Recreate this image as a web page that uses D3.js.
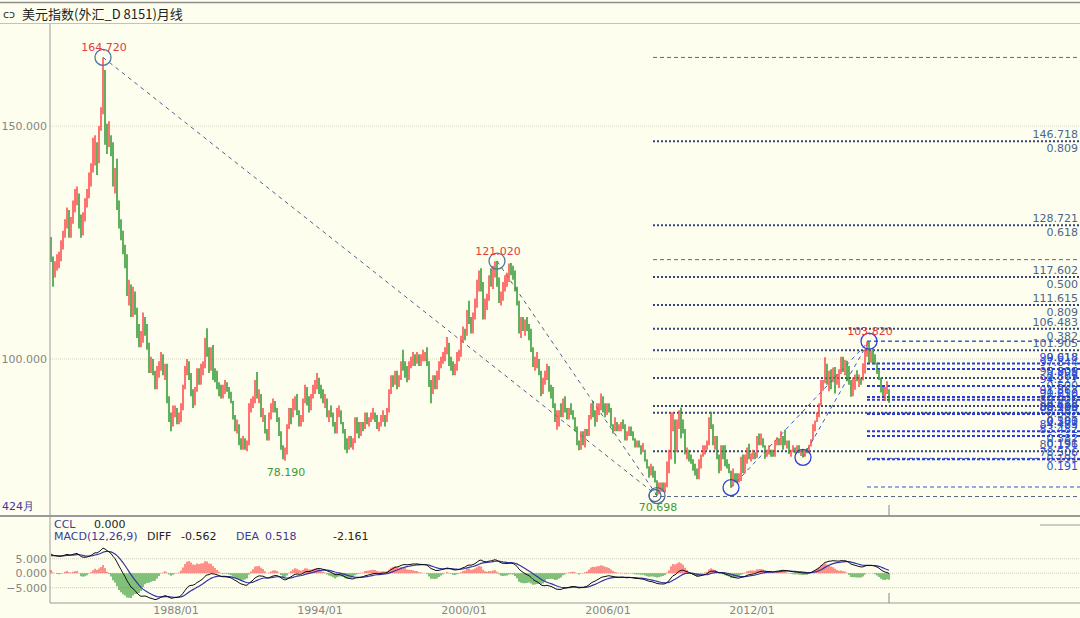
<!DOCTYPE html>
<html>
<head>
<meta charset="utf-8">
<title>美元指数 月线</title>
<script src="https://d3js.org/d3.v7.min.js"></script>
<style>
  body { margin: 0; background: #fefeee; }
  svg { display: block; }
  .lbl { font-family: "DejaVu Sans", Verdana, sans-serif; font-size: 11px; }
</style>
</head>
<body>
<svg id="chart" width="1080" height="618"></svg>
<script>
// monthly bars, first bar = 1982/12, open of each bar = previous close
const firstOpen = 125.6;

// closes 1980/01 - 1982/11, only used to warm up the MACD
const warmUp = [
  86.5, 88.0, 93.0, 90.5, 87.5, 86.5, 85.0, 86.0, 86.0, 88.0, 91.0, 94.0,
  97.0, 100.5, 99.0, 103.0, 108.0, 110.5, 113.5, 112.0, 106.5, 106.0, 103.0, 105.0,
  108.0, 111.0, 113.0, 112.0, 110.5, 116.0, 117.5, 117.0, 120.0, 121.5, 123.5
];

const highs = [
  126.2,
  122.0,121.0,122.5,123.0,125.5,127.5,130.0,132.5,132.0,130.5,134.0,136.5,
  137.0,135.5,131.0,131.5,134.5,136.5,140.0,142.0,147.5,148.0,146.5,150.0,
  154.0,164.72,162.0,150.5,151.0,148.0,146.5,141.0,143.0,134.0,130.0,127.5,
  124.5,122.5,117.0,116.0,115.5,114.5,111.0,107.5,106.0,110.0,109.0,107.5,
  103.5,100.5,100.0,97.5,98.5,99.5,101.5,101.0,99.0,99.0,92.0,88.5,
  90.0,90.0,89.5,88.5,90.5,94.5,98.5,100.0,99.5,97.0,93.5,94.0,
  98.0,98.0,99.0,99.5,104.5,106.6,102.5,102.5,103.0,98.0,97.5,95.0,
  94.5,94.5,95.5,95.0,94.0,93.0,91.0,88.0,87.0,86.0,83.0,83.5,
  83.0,82.5,90.5,91.5,92.0,95.5,97.2,93.5,92.5,89.5,88.0,85.0,
  88.5,90.5,91.5,91.0,89.5,87.5,84.5,81.5,81.0,86.0,89.5,89.5,
  91.5,92.0,92.5,89.0,88.0,91.5,94.5,94.0,92.0,92.5,94.5,95.5,
  97.0,96.0,94.5,93.5,92.5,91.5,89.0,90.0,88.5,86.5,89.5,90.0,
  89.0,86.5,85.0,83.0,83.5,83.5,83.0,87.5,87.5,86.5,86.5,86.5,
  88.5,88.5,87.5,88.5,89.5,88.5,88.0,86.5,88.0,89.0,88.0,89.5,
  93.5,96.5,96.5,97.5,97.5,96.5,99.5,102.0,99.5,98.5,99.5,100.5,
  101.5,101.0,101.5,101.0,101.0,102.0,101.5,102.5,99.5,95.5,96.5,96.5,
  97.5,99.5,100.5,101.5,102.5,104.7,103.5,100.5,99.5,99.0,101.5,102.0,
  105.0,107.0,106.5,110.5,112.5,109.0,110.0,113.0,117.0,119.0,119.5,116.5,
  113.0,114.0,118.0,119.5,120.0,121.0,121.02,117.5,114.5,116.5,118.0,118.5,
  120.5,120.6,120.0,119.0,115.5,112.5,109.0,109.0,108.5,109.0,107.5,106.5,
  102.5,100.5,101.5,100.0,97.5,96.0,97.5,99.0,98.5,94.5,94.0,90.5,
  89.0,89.0,90.5,91.5,92.0,89.5,89.5,90.5,89.0,87.5,85.5,82.5,
  84.5,84.5,85.0,85.0,88.0,90.5,91.0,89.0,90.5,90.5,92.6,92.0,
  90.5,90.5,90.5,89.5,86.0,87.5,86.5,86.0,86.5,87.0,86.0,84.5,
  85.5,85.5,84.5,83.0,82.5,82.5,81.5,82.0,80.5,78.5,77.0,77.5,
  77.0,76.0,74.0,73.5,73.5,73.5,73.5,78.0,80.5,88.5,88.5,87.0,
  87.0,89.0,89.6,87.0,85.0,81.0,80.5,79.5,78.5,77.5,76.5,78.5,
  79.5,81.5,81.5,82.5,87.5,88.7,86.0,83.5,83.5,79.5,81.5,81.5,
  81.5,78.5,77.5,76.0,76.5,75.5,75.5,75.5,79.0,79.5,79.5,81.0,
  81.8,79.8,80.5,80.0,83.5,84.0,84.0,83.0,81.5,80.5,81.5,80.5,
  80.5,82.5,83.2,83.0,84.5,83.5,84.8,82.5,82.5,80.5,81.5,81.0,
  81.5,81.5,80.5,80.5,80.5,80.9,81.6,82.8,86.0,86.8,88.5,90.5,
  95.5,95.5,100.39,99.0,97.5,97.8,98.2,98.3,96.8,97.8,100.5,100.5,
  99.8,99.6,98.5,95.5,96.0,96.7,97.6,96.7,96.0,99.1,102.0,103.7,
  103.82,101.8,102.3,101.0,99.2,97.8,96.0,94.0,94.0,95.2,93.5
];

const lows = [
  120.8,
  115.5,117.5,119.0,119.5,121.0,123.5,126.0,128.0,126.0,126.0,129.0,131.5,
  133.0,128.0,126.0,126.5,129.5,132.5,134.5,137.0,140.0,141.5,139.5,142.0,
  149.0,152.5,146.0,144.0,145.5,143.5,137.0,135.5,132.0,128.0,125.5,122.5,
  119.5,113.5,111.5,109.0,109.0,109.5,104.5,102.5,102.5,103.5,105.0,102.0,
  97.0,97.0,96.5,93.5,93.5,96.0,97.5,96.5,95.5,90.5,86.5,84.5,
  85.5,87.5,86.0,86.0,86.5,89.0,93.5,96.5,95.5,92.0,89.5,90.0,
  93.0,94.5,94.5,96.5,98.0,100.5,97.0,97.5,95.5,95.0,93.5,92.0,
  91.5,91.5,92.5,93.0,91.5,90.5,87.0,84.5,84.0,81.5,80.5,80.5,
  80.5,80.2,81.5,88.5,89.5,90.5,91.5,90.5,87.5,86.5,84.0,82.5,
  82.5,87.0,88.5,88.5,86.5,83.5,80.5,78.5,78.19,79.5,85.0,86.0,
  87.5,89.0,88.0,85.5,85.5,86.5,90.5,90.0,88.5,89.0,91.5,92.5,
  93.5,92.5,91.5,90.5,89.5,87.5,86.5,87.5,85.5,84.0,84.0,87.5,
  86.0,84.0,80.5,79.8,80.5,81.0,80.5,82.0,84.0,83.0,83.5,84.5,
  85.0,86.0,85.5,86.5,87.0,86.5,85.0,84.5,85.5,86.5,85.5,86.5,
  88.5,92.5,94.0,94.5,93.5,94.0,95.5,97.5,96.0,95.0,95.5,98.0,
  98.5,98.5,99.0,98.5,98.5,99.5,99.5,98.5,94.0,90.5,92.5,93.5,
  93.5,95.5,98.0,99.0,99.5,101.0,98.5,97.5,96.5,96.5,97.5,99.5,
  100.5,103.5,104.0,105.0,107.5,105.5,105.5,108.5,111.0,114.5,114.5,108.5,
  108.5,110.5,112.5,115.5,115.0,117.5,115.5,112.0,111.5,112.5,114.5,115.5,
  116.5,118.0,117.0,114.5,111.5,105.5,104.5,106.0,105.0,106.0,104.0,101.5,
  98.3,97.5,98.0,96.5,92.0,92.5,94.5,95.5,93.0,91.5,89.5,86.5,
  84.8,85.5,87.5,87.5,88.5,87.0,87.0,88.0,87.0,84.5,81.5,80.4,
  80.5,81.5,81.0,83.5,83.5,87.0,87.5,85.5,86.5,88.0,89.0,88.5,
  87.5,88.0,88.5,85.5,84.0,84.5,84.5,84.5,84.5,85.0,82.5,82.5,
  83.5,83.5,82.5,81.0,81.0,81.0,79.5,80.0,78.0,76.5,74.5,75.0,
  74.5,73.5,70.698,71.0,71.5,71.5,71.3,72.5,75.5,78.5,84.5,77.5,
  80.0,85.0,83.0,84.0,79.5,78.5,78.0,77.5,76.0,75.0,74.2,74.2,
  76.5,79.0,79.5,80.5,81.5,85.0,81.5,80.5,78.5,75.5,76.0,78.5,
  77.0,76.5,75.5,72.4,72.7,73.5,73.5,73.5,73.8,75.5,75.5,77.5,
  78.5,78.0,78.5,78.5,78.8,81.5,81.5,81.0,78.6,79.0,79.5,79.0,
  79.0,79.0,81.5,81.5,81.5,80.5,81.5,80.8,79.6,79.0,80.0,79.8,
  79.9,79.8,79.2,78.9,79.0,79.8,79.8,81.2,82.6,84.5,86.5,87.5,
  90.0,93.2,94.8,94.5,93.1,93.5,95.0,92.6,94.5,93.8,96.8,97.2,
  96.5,95.2,94.5,91.9,92.0,93.4,95.2,94.0,94.5,95.4,96.9,100.5,
  99.2,99.2,98.9,98.8,96.8,95.5,92.8,92.0,91.0,92.5,90.6
];

const closes = [
  121.5,
  117.5,120.5,121.0,122.0,124.8,126.5,129.5,130.5,127.0,129.5,133.2,134.5,
  135.0,129.0,127.0,130.5,133.8,135.5,139.0,140.5,145.0,146.5,142.5,149.5,
  153.0,158.0,148.0,145.5,146.5,145.0,139.0,139.5,133.0,128.5,126.5,123.0,
  121.0,114.5,114.5,110.0,114.0,110.5,105.0,103.5,104.5,108.0,106.5,103.0,
  98.5,99.0,97.0,94.5,97.5,98.5,100.0,97.0,97.5,91.0,87.0,85.5,
  88.5,88.5,86.5,87.0,89.5,94.0,97.5,98.5,97.0,92.5,90.5,93.5,
  97.5,95.0,98.0,98.5,104.0,101.5,98.0,101.5,97.0,96.5,94.5,93.5,
  92.0,93.5,94.5,93.5,92.0,91.0,87.5,85.5,85.5,82.0,81.5,82.5,
  81.0,82.0,90.0,90.5,91.0,95.0,92.0,92.5,88.0,88.0,84.5,83.0,
  88.0,89.5,90.5,89.5,87.5,84.0,81.0,79.0,80.5,85.5,89.0,88.5,
  90.5,91.0,88.5,86.0,87.0,91.0,93.5,91.0,89.5,92.0,93.5,94.5,
  95.5,93.5,92.5,91.0,91.5,88.0,88.5,88.0,86.0,84.5,88.5,88.5,
  86.5,84.5,82.0,81.5,82.5,82.0,82.5,86.5,85.0,84.0,85.5,85.0,
  88.0,86.5,87.0,88.0,88.0,87.5,85.5,86.0,87.5,88.0,87.0,89.0,
  93.0,95.5,95.0,97.0,94.5,96.0,99.0,98.5,98.0,96.0,99.0,99.5,
  100.5,99.5,101.0,99.0,100.5,100.5,101.0,99.5,94.5,93.0,96.0,94.5,
  96.5,99.0,100.0,101.0,102.0,103.0,99.5,99.0,97.5,98.5,101.0,101.5,
  104.5,106.0,105.5,110.0,108.5,106.0,109.0,112.5,115.5,118.0,115.5,109.5,
  111.5,113.5,117.5,116.5,119.5,120.0,116.5,113.0,113.5,115.5,117.5,117.5,
  120.0,119.5,118.5,115.0,112.0,106.0,108.5,107.5,107.5,107.0,106.5,102.0,
  99.0,99.5,99.5,97.0,93.0,95.5,96.5,98.5,93.5,93.0,90.0,87.0,
  87.5,88.5,88.0,91.0,89.0,88.5,89.0,88.5,87.5,85.0,82.0,81.0,
  84.0,82.0,84.5,84.0,87.5,89.5,88.0,87.0,89.5,89.5,91.5,89.5,
  88.5,89.5,89.0,86.0,85.5,85.5,85.0,85.0,86.0,85.5,83.0,84.0,
  85.0,84.0,83.0,81.5,82.0,81.5,80.5,80.5,78.0,76.5,76.0,76.5,
  75.0,73.5,71.5,72.5,72.5,72.0,73.0,77.5,79.0,85.5,86.0,81.5,
  86.0,88.5,85.5,84.5,79.5,80.0,78.5,78.0,76.5,76.0,74.5,77.9,
  79.5,80.5,81.0,81.8,86.5,86.0,81.5,83.0,79.0,77.5,81.0,79.0,
  77.5,76.8,75.9,73.0,74.5,74.2,74.0,74.2,78.5,76.0,78.5,80.2,
  79.0,79.0,79.0,78.8,83.0,81.5,82.5,81.2,79.9,80.0,80.2,79.8,
  79.2,82.0,82.5,82.0,83.3,83.2,81.5,82.0,80.2,80.2,80.7,80.1,
  81.2,79.8,80.1,79.5,80.4,79.8,81.5,82.7,86.0,86.9,88.4,90.3,
  94.8,95.3,98.4,94.6,96.9,95.5,97.3,95.8,96.3,97.1,100.2,98.6,
  99.6,98.2,94.6,93.1,95.9,96.1,95.5,96.0,95.4,98.4,101.5,102.2,
  99.5,101.1,100.4,99.0,97.0,95.6,92.9,92.7,93.1,94.6,91.6
];

const dateTicks = ["1988/01", "1994/01", "2000/01", "2006/01", "2012/01"];
const priceTicks = [150, 100];
const macdTicks = [5, 0, -5];

// marked highs and lows: bar index, value, text
const marks = [
  { i: 26, v: 164.72, text: "164.720", up: true, ring: "#4a78a8" },
  { i: 223, v: 121.02, text: "121.020", up: true, ring: "#4a78a8" },
  { i: 117, v: 78.19, text: "78.190", up: false, ring: null },
  { i: 303, v: 70.698, text: "70.698", up: false, ring: "#4a6a9a" },
  { i: 340, v: 72.4, text: null, up: false, ring: "#2f3fd6" },
  { i: 376, v: 78.9, text: null, up: false, ring: "#2f3fd6" },
  { i: 409, v: 103.82, text: "103.820", up: true, ring: "#2f3fd6" }
];

// dashed trend lines: [from index, from value, to index, to value]
const downLines = [[26, 164.72, 303, 70.698], [223, 121.02, 303, 70.698]];
const upLines = [[340, 72.4, 409, 103.82], [376, 78.9, 409, 103.82]];

// fibonacci tools (low, high, first bar)
const fibRatios = [0.191, 0.382, 0.5, 0.618, 0.809];
const fibOld = [{ lo: 70.488, hi: 164.716, from: 301 }, { lo: 70.4855, hi: 121.3255, from: 301 }];
const fibNew = [{ lo: 78.68, hi: 103.82, from: 408 }, { lo: 72.53, hi: 103.82, from: 408 }];

const macdText = [
  { t: "CCL", x: 54, y: 528, c: "#3a3a9a" }, { t: "0.000", x: 94, y: 528, c: "#222" },
  { t: "MACD(12,26,9)", x: 54, y: 540, c: "#3a3a9a" }, { t: "DIFF", x: 147, y: 540, c: "#222" },
  { t: "-0.562", x: 181, y: 540, c: "#222" }, { t: "DEA", x: 236, y: 540, c: "#3a3a9a" },
  { t: "0.518", x: 265, y: 540, c: "#3a3a9a" }, { t: "-2.161", x: 333, y: 540, c: "#222" }
];

const svg = d3.select("#chart");
const W = 1080, axisX = 50, mainTop = 24, mainBottom = 516, macdTop = 518, macdBottom = 603;
const fmt = d3.format(".3f");

const x = d3.scaleLinear().domain([0, closes.length - 1]).range([51, 889]);
const y = d3.scaleLinear().domain([66.31, 171.89]).range([mainBottom, mainTop]);
const ym = d3.scaleLinear().domain([-10.3, 19.1]).range([macdBottom, macdTop]);

svg.append("rect").attr("width", W).attr("height", 618).attr("fill", "#fefeee");

// title bar
svg.append("line").attr("x1", 0).attr("x2", W).attr("y1", 2.5).attr("y2", 2.5)
  .attr("stroke", "#8c8c8c").attr("stroke-width", 1.5);
svg.append("line").attr("x1", 0).attr("x2", W).attr("y1", 23.5).attr("y2", 23.5)
  .attr("stroke", "#c4c4b4");
svg.append("text").attr("x", 3).attr("y", 18).attr("class", "lbl")
  .attr("font-size", 11).attr("fill", "#333").text("cↄ");
svg.append("text").attr("x", 22).attr("y", 18.5)
  .attr("font-family", "'Noto Sans CJK SC', sans-serif").attr("font-size", 13)
  .attr("fill", "#222").text("美元指数(外汇_D 8151)月线");

// grid
svg.selectAll("line.pgrid").data(priceTicks).join("line")
  .attr("x1", axisX).attr("x2", W).attr("y1", d => y(d)).attr("y2", d => y(d))
  .attr("stroke", "#d6d6be").attr("stroke-dasharray", "1,1");
svg.selectAll("line.mgrid").data(macdTicks).join("line")
  .attr("x1", axisX).attr("x2", W).attr("y1", d => ym(d)).attr("y2", d => ym(d))
  .attr("stroke", "#d0d0b8").attr("stroke-dasharray", "1,1");

// axis labels
svg.selectAll("text.pt").data(priceTicks).join("text").attr("class", "lbl")
  .attr("x", 47).attr("y", d => y(d) + 4).attr("text-anchor", "end")
  .attr("fill", "#858585").text(d => fmt(d));
svg.selectAll("text.mt").data(macdTicks).join("text").attr("class", "lbl")
  .attr("x", 47).attr("y", d => ym(d) + 4).attr("text-anchor", "end")
  .attr("fill", "#858585").text(d => fmt(d));
svg.selectAll("text.dt").data(dateTicks).join("text").attr("class", "lbl")
  .attr("x", d => x((+d.slice(0, 4) - 1983) * 12 + (+d.slice(5))) + 3)
  .attr("y", 614).attr("text-anchor", "middle").attr("fill", "#858585").text(d => d);

// fibonacci levels
function drawFib(tools, dotColor, edgeColor, textColor, dash) {
  tools.forEach(f => {
    const span = f.hi - f.lo;
    [f.lo, f.hi].forEach(v => {
      svg.append("line").attr("x1", x(f.from)).attr("x2", W).attr("y1", y(v)).attr("y2", y(v))
        .attr("stroke", edgeColor).attr("stroke-width", 1).attr("stroke-dasharray", "4,3");
    });
    fibRatios.forEach(r => {
      const v = f.lo + r * span;
      svg.append("line").attr("x1", x(f.from)).attr("x2", W).attr("y1", y(v)).attr("y2", y(v))
        .attr("stroke", dotColor).attr("stroke-width", 2).attr("stroke-dasharray", dash);
      svg.append("text").attr("class", "lbl").attr("x", 1078).attr("y", y(v) - 3)
        .attr("text-anchor", "end").attr("fill", textColor).text(fmt(v));
      svg.append("text").attr("class", "lbl").attr("x", 1078).attr("y", y(v) + 11)
        .attr("text-anchor", "end").attr("fill", textColor).text(fmt(r));
    });
  });
}
drawFib(fibOld, "#34457a", "#5a6886", "#4a6690", "2,2");
drawFib(fibNew, "#2a3ad8", "#3a52d0", "#2f4fd8", "3,2");

// trend lines
function drawTrend(lines, color) {
  svg.selectAll(null).data(lines).join("line")
    .attr("x1", d => x(d[0])).attr("y1", d => y(d[1]))
    .attr("x2", d => x(d[2])).attr("y2", d => y(d[3]))
    .attr("stroke", color).attr("stroke-width", 1).attr("stroke-dasharray", "4,4");
}
drawTrend(downLines, "#4f6290");
drawTrend(upLines, "#3d58d4");

// monthly bars
const bars = closes.map((c, i) => ({
  i, h: highs[i], l: lows[i], c, o: i === 0 ? firstOpen : closes[i - 1]
}));
svg.append("g").selectAll("line").data(bars).join("line")
  .attr("x1", d => x(d.i)).attr("x2", d => x(d.i))
  .attr("y1", d => y(d.h)).attr("y2", d => y(d.l))
  .attr("stroke", d => d.c >= d.o ? "#ff4646" : "#2c962c")
  .attr("stroke-width", 1.5);

// circles and value labels
marks.forEach(m => {
  if (m.ring) {
    svg.append("circle").attr("cx", x(m.i)).attr("cy", y(m.v)).attr("r", 8)
      .attr("fill", "none").attr("stroke", m.ring).attr("stroke-width", 1.3);
    if (m.i === 303) {
      svg.append("circle").attr("cx", x(m.i) - 2).attr("cy", y(m.v)).attr("r", 6)
        .attr("fill", "none").attr("stroke", m.ring).attr("stroke-width", 1.2);
    }
  }
  if (m.text) {
    svg.append("text").attr("class", "lbl").attr("font-size", 12)
      .attr("x", x(m.i) + 1).attr("y", m.up ? y(m.v) - 6 : y(m.v) + 15)
      .attr("text-anchor", "middle").attr("fill", m.up ? "#e43c3c" : "#3a9a3a").text(m.text);
  }
});

// panel frame
svg.append("line").attr("x1", axisX).attr("x2", axisX).attr("y1", mainTop).attr("y2", macdBottom)
  .attr("stroke", "#9a9a9a");
svg.append("line").attr("x1", 0).attr("x2", W).attr("y1", mainBottom).attr("y2", mainBottom)
  .attr("stroke", "#9a9a9a").attr("stroke-width", 2);
svg.append("line").attr("x1", axisX).attr("x2", W).attr("y1", macdBottom).attr("y2", macdBottom)
  .attr("stroke", "#9a9a9a");
svg.append("line").attr("x1", 1040).attr("x2", W).attr("y1", 525).attr("y2", 525)
  .attr("stroke", "#9a9a9a");
[[mainBottom - 11, mainBottom], [macdBottom - 10, macdBottom]].forEach(s => {
  svg.append("line").attr("x1", x(closes.length - 1)).attr("x2", x(closes.length - 1))
    .attr("y1", s[0]).attr("y2", s[1]).attr("stroke", "#888");
});
svg.append("text").attr("class", "lbl").attr("x", 2).attr("y", 510)
  .attr("fill", "#3a3a9a").text("424月");

// MACD(12,26,9)
function ema(arr, n) {
  const k = 2 / (n + 1);
  let e = arr[0];
  return arr.map((v, j) => (e = j === 0 ? v : v * k + e * (1 - k)));
}
const allCloses = warmUp.concat(closes);
const e12 = ema(allCloses, 12), e26 = ema(allCloses, 26);
const diffAll = e12.map((v, j) => v - e26[j]);
const deaAll = ema(diffAll, 9);
const diff = diffAll.slice(warmUp.length), dea = deaAll.slice(warmUp.length);
const hist = diff.map((d, j) => 2 * (d - dea[j]));

svg.append("g").selectAll("line").data(hist).join("line")
  .attr("x1", (d, i) => x(i)).attr("x2", (d, i) => x(i))
  .attr("y1", ym(0)).attr("y2", d => ym(d))
  .attr("stroke", d => d >= 0 ? "#ff4646" : "#2c962c").attr("stroke-width", 1.2);

const macdLine = d3.line().x((d, i) => x(i)).y(d => ym(d));
svg.append("path").datum(dea).attr("d", macdLine)
  .attr("fill", "none").attr("stroke", "#3434a8").attr("stroke-width", 1.2);
svg.append("path").datum(diff).attr("d", macdLine)
  .attr("fill", "none").attr("stroke", "#111").attr("stroke-width", 1);

svg.selectAll("text.mh").data(macdText).join("text").attr("class", "lbl")
  .attr("font-size", 11.5).attr("x", d => d.x).attr("y", d => d.y)
  .attr("fill", d => d.c).text(d => d.t);
</script>
</body>
</html>
